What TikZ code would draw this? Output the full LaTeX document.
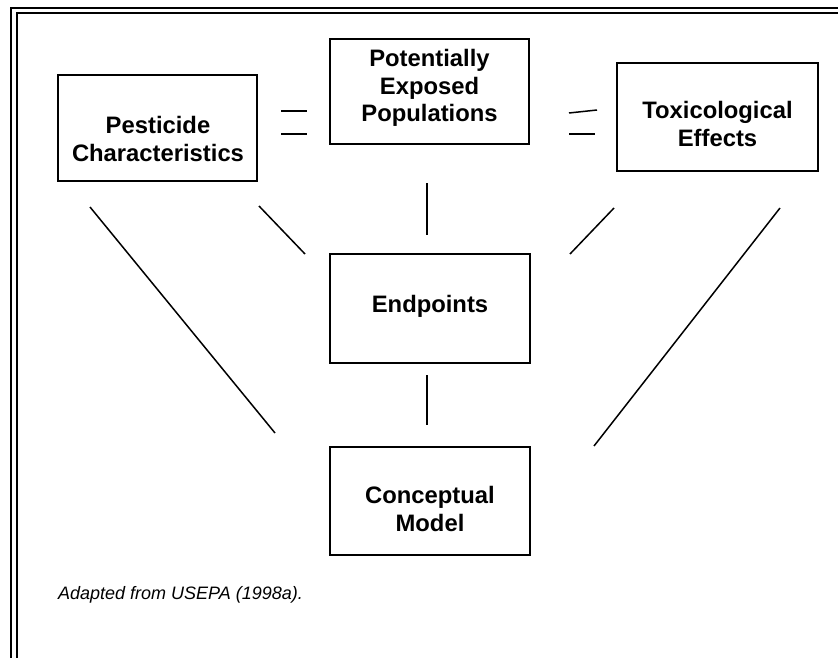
\documentclass[tikz,border=0pt]{standalone}
\usepackage{fontspec}
\setmainfont{Liberation Sans}
\begin{document}
\begin{tikzpicture}[x=1pt,y=-1pt,
  box/.style={draw, line width=2pt, inner sep=0pt},
  lbl/.style={font=\bfseries\fontsize{23.8}{27.5}\selectfont, align=center, inner sep=0pt},
  conn/.style={line width=1.5pt},
  frameline/.style={line width=2.3pt}]
\useasboundingbox (0,0) rectangle (838,658);
% double frame
\draw[frameline] (838,8) -- (11,8) -- (11,658);
\draw[frameline] (838,13) -- (17,13) -- (17,658);
% boxes
\node[box, minimum width=199pt, minimum height=106pt] (pest) at (157.5,128) {};
\node[box, minimum width=199pt, minimum height=105pt] (pop) at (429.5,91.5) {};
\node[box, minimum width=201pt, minimum height=108pt] (tox) at (717.5,117) {};
\node[box, minimum width=200pt, minimum height=109pt] (endp) at (430,308.5) {};
\node[box, minimum width=200pt, minimum height=108pt] (con) at (430,501) {};
% labels
\node[lbl] (pestt) at (158,139) {Pesticide\\Characteristics};
\node[lbl] (popt) at (429.5,88) {Potentially\\Exposed\\Populations};
\node[lbl] (toxt) at (717.5,124) {Toxicological\\Effects};
\node[lbl] (endt) at (430,306) {Endpoints};
\node[lbl] (cont) at (430,509) {Conceptual\\Model};
% connector end points
\coordinate (a1) at (90,207);  \coordinate (a2) at (275,433);
\coordinate (b1) at (259,206); \coordinate (b2) at (305,254);
\coordinate (c1) at (427,183); \coordinate (c2) at (427,235);
\coordinate (d1) at (614,208); \coordinate (d2) at (570,254);
\coordinate (e1) at (780,208); \coordinate (e2) at (594,446);
\coordinate (f1) at (427,375); \coordinate (f2) at (427,425);
\draw[conn] (a1) -- (a2);
\draw[conn] (b1) -- (b2);
\draw[conn] (c1) -- (c2);
\draw[conn] (d1) -- (d2);
\draw[conn] (e1) -- (e2);
\draw[conn] (f1) -- (f2);
% equals marks
\coordinate (q1) at (281,111); \coordinate (q2) at (307,111);
\coordinate (q3) at (281,134); \coordinate (q4) at (307,134);
\coordinate (r1) at (569,113); \coordinate (r2) at (597,110);
\coordinate (r3) at (569,134); \coordinate (r4) at (595,134);
\draw[conn] (q1) -- (q2);
\draw[conn] (q3) -- (q4);
\draw[conn] (r1) -- (r2);
\draw[conn] (r3) -- (r4);
% caption
\node[anchor=west, inner sep=0pt, font=\itshape\fontsize{18}{21}\selectfont] (cap) at (58,595) {Adapted from USEPA (1998a).};
\end{tikzpicture}
\end{document}
